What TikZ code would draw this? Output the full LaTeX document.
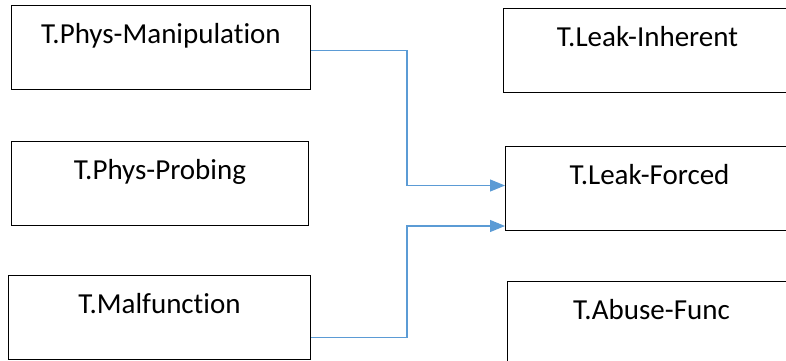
\documentclass[tikz,border=0pt]{standalone}
\usepackage{fontspec}
\setmainfont{Carlito}[Ligatures=NoCommon]
\usetikzlibrary{arrows.meta}
\definecolor{linkblue}{RGB}{91,155,213}

\tikzset{
	threat/.style = {draw, line width=1pt, inner sep=0pt, anchor=north west,
		text height=38pt, text depth=46pt, font=\fontsize{29}{33}\selectfont},
	flow/.style = {draw=linkblue, line width=1.1pt, -{Triangle[length=15pt,width=12pt]}}
}

\begin{document}
\begin{tikzpicture}[x=1pt, y=-1pt]

	\useasboundingbox (0,0) rectangle (786,360);

	\node[threat, minimum width=299pt] (manip) at (11,5) {T.Phys-Manipulation};
	\node[threat, minimum width=297pt] (probe) at (11,141) {T.Phys-Probing};
	\node[threat, minimum width=302pt] (malf) at (8,275) {T.Malfunction};

	\node[threat, minimum width=288pt] (inherent) at (503,8) {T.Leak-Inherent};
	\node[threat, minimum width=288pt] (forced) at (505,146) {T.Leak-Forced};
	\node[threat, minimum width=288pt] (abuse) at (507,281) {T.Abuse-Func};

	\coordinate (jog) at (407,0);

	\draw[flow] ([yshift=-3pt]manip.east) -- ([yshift=-3pt]manip.east -| jog) |- ([yshift=3pt]forced.west);
	\draw[flow] ([yshift=-20pt]malf.east) -- ([yshift=-20pt]malf.east -| jog) |- ([yshift=5pt]forced.south west);

\end{tikzpicture}
\end{document}
